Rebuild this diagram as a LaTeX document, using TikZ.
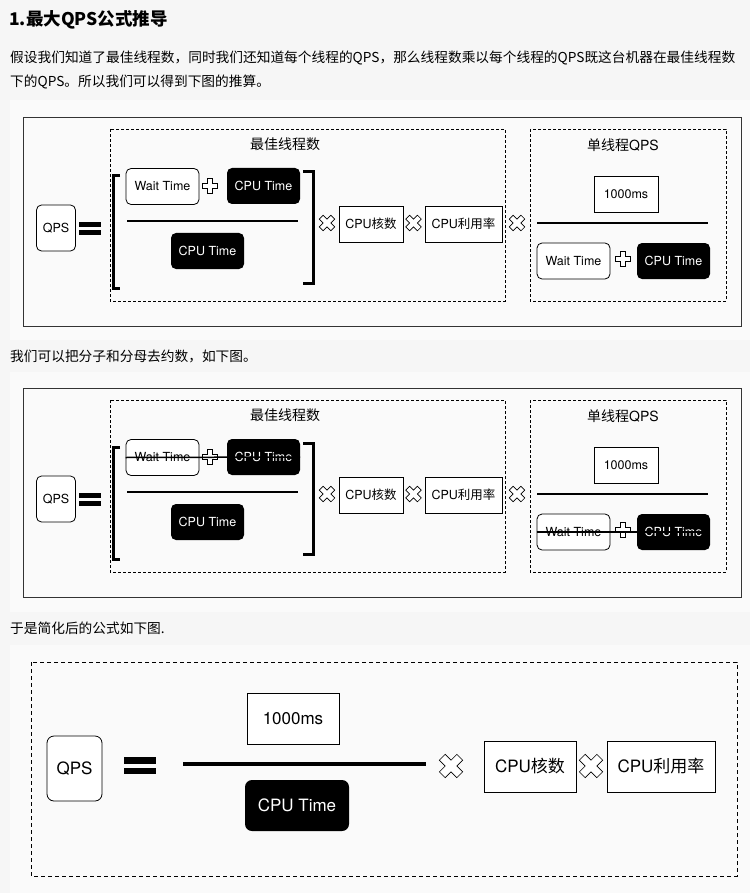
\documentclass[tikz,border=0pt]{standalone}
\usepackage{fontspec}
\setmainfont{TeX Gyre Heros}
\newfontfamily\cjk{Noto Sans CJK SC}
\usepackage{tikz}

\definecolor{seite}{RGB}{246,246,246}
\definecolor{flaeche}{RGB}{250,250,250}

\newcommand{\klein}{\fontsize{12.5}{12.5}\selectfont}
\newcommand{\gross}{\fontsize{17}{17}\selectfont}

\tikzset{
  weiss/.style={draw, fill=white, rounded corners=5pt, line width=0.8pt, inner sep=0pt,
    minimum width=73, minimum height=36, font=\klein},
  schwarz/.style={fill=black, text=white, rounded corners=5pt, inner sep=0pt,
    minimum width=73, minimum height=36, font=\klein},
  eckig/.style={draw, fill=white, line width=0.8pt, inner sep=0pt, minimum height=36, font=\klein},
  titel/.style={inner sep=0pt, font=\fontsize{14}{14}\selectfont},
  absatz/.style={anchor=west, inner sep=0pt, font=\cjk\fontsize{13.7}{13.7}\selectfont},
  strich/.style={dash pattern=on 3pt off 2pt, line width=0.6pt},
  pluszeichen/.pic={
    \draw[fill=white, line width=0.6pt] (-2.5,-7.5) -- (2.5,-7.5) -- (2.5,-2.5) -- (7.5,-2.5)
      -- (7.5,2.5) -- (2.5,2.5) -- (2.5,7.5) -- (-2.5,7.5) -- (-2.5,2.5) -- (-7.5,2.5)
      -- (-7.5,-2.5) -- (-2.5,-2.5) -- cycle;
  }
}

\begin{document}
\begin{tikzpicture}[x=1pt, y=-1pt]
\useasboundingbox[fill=seite] (0,0) rectangle (750,893);
% Flaechen der drei Bilder
\fill[flaeche] (10,100) rectangle (750,340);
\fill[flaeche] (10,372) rectangle (750,612);
\fill[flaeche] (10,645) rectangle (750,893);

% Text
\node[anchor=west, inner sep=0pt, font=\cjk\bfseries\fontsize{17.5}{17.5}\selectfont] (kopf) at (9,20) {1.最大QPS公式推导};
\node[absatz] (zeileA) at (10,58) {假设我们知道了最佳线程数，同时我们还知道每个线程的QPS，那么线程数乘以每个线程的QPS既这台机器在最佳线程数};
\node[absatz] (zeileB) at (10,82) {下的QPS。所以我们可以得到下图的推算。};
\node[absatz] (zeileC) at (10,356) {我们可以把分子和分母去约数，如下图。};
\node[absatz] (zeileD) at (10,628) {于是简化后的公式如下图.};

% Bild 1 und Bild 2
\foreach \p/\dy in {1/0, 2/271} {
  \begin{scope}[yshift=-\dy pt]
    \draw[line width=0.9pt, black!80] (23,117) rectangle (741,326);
    \draw[strich] (110,129) rectangle (505,301);
    \draw[strich] (530,129) rectangle (726,301);
    \node[titel] (besteT\p) at (285,144) {\cjk 最佳线程数};
    \node[titel] (einzelT\p) at (623,145) {{\cjk 单线程}QPS};
    % linke Seite
    \node[weiss, minimum width=39, minimum height=46] (qps\p) at (56,228) {QPS};
    \fill (79,222) rectangle (101,227);
    \fill (79,230) rectangle (101,235);
    \draw[line width=3pt] (120,176) -- (113,176) -- (113,288) -- (120,288);
    \draw[line width=3pt] (303,172) -- (313,172) -- (313,283) -- (303,283);
    \node[weiss] (wait\p) at (162.5,186.5) {Wait Time};
    \pic at (209.5,185.5) {pluszeichen};
    \node[schwarz] (cpu\p a) at (263.5,186) {CPU Time};
    \draw[line width=2.5pt] (127,221) -- (298,221);
    \node[schwarz] (cpu\p b) at (207.5,251) {CPU Time};
    \pic[rotate=45, scale=1.1] at (327,223) {pluszeichen};
    \node[eckig, minimum width=64] (kern\p) at (371,224) {CPU{\cjk 核数}};
    \pic[rotate=45, scale=1.1] at (413.5,223) {pluszeichen};
    \node[eckig, minimum width=77] (last\p) at (463.5,224) {CPU{\cjk 利用率}};
    \pic[rotate=45, scale=1.1] at (517,223) {pluszeichen};
    % rechte Seite
    \node[eckig, minimum width=64] (ms\p) at (626,194) {1000ms};
    \draw[line width=2.5pt] (537,223) -- (708,223);
    \node[weiss] (wait\p b) at (573.5,261) {Wait Time};
    \pic at (623,259) {pluszeichen};
    \node[schwarz] (cpu\p c) at (673.5,261) {CPU Time};
  \end{scope}
}

% gekuerzt
\draw[line width=1.5pt] (wait2.west) -- (cpu2a.east);
\draw[line width=1.5pt] (wait2b.west) -- (cpu2c.east);

% Bild 3
\draw[dash pattern=on 4pt off 3pt, line width=0.8pt] (31,662) rectangle (737,876);
\node[weiss, minimum width=55, minimum height=65, rounded corners=7pt, font=\gross] (qps3) at (74.5,768.5) {QPS};
\fill (124,757) rectangle (156,764);
\fill (124,768) rectangle (156,774);
\draw[line width=4pt] (183,764) -- (426,764);
\node[eckig, minimum width=92, minimum height=51, font=\gross] (ms3) at (293,718.5) {1000ms};
\node[schwarz, minimum width=104, minimum height=51, rounded corners=7pt, font=\gross] (cpu3) at (297,805.5) {CPU Time};
\pic[rotate=45, scale=1.65] at (451,766) {pluszeichen};
\node[eckig, minimum width=92, minimum height=51, font=\gross] (kern3) at (530,766.5) {CPU{\cjk 核数}};
\pic[rotate=45, scale=1.65] at (591,766) {pluszeichen};
\node[eckig, minimum width=108, minimum height=51, font=\gross] (last3) at (661,766.5) {CPU{\cjk 利用率}};
\end{tikzpicture}
\end{document}
